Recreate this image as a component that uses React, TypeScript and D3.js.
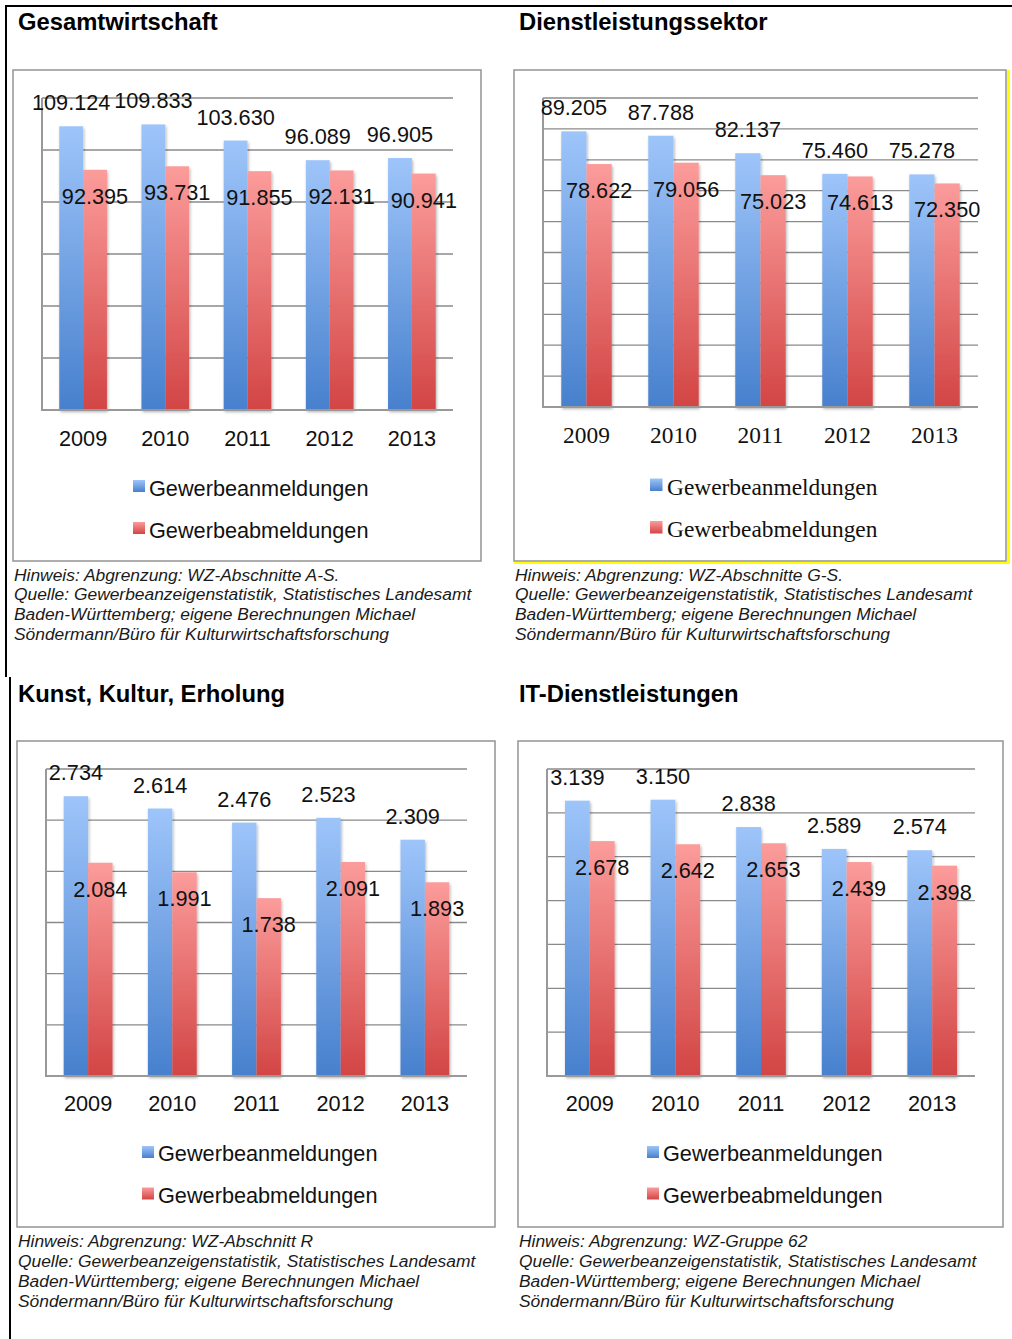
import React from "react";
import * as d3 from "d3";

// Categories and series
const years = ["2009", "2010", "2011", "2012", "2013"];
const seriesKeys = ["an", "ab"];
const legendLabels = ["Gewerbeanmeldungen", "Gewerbeabmeldungen"];

// Gesamtwirtschaft
const gesamtAn = [109124, 109833, 103630, 96089, 96905];
const gesamtAb = [92395, 93731, 91855, 92131, 90941];
// Dienstleistungssektor
const dienstAn = [89205, 87788, 82137, 75460, 75278];
const dienstAb = [78622, 79056, 75023, 74613, 72350];
// Kunst, Kultur, Erholung
const kunstAn = [2734, 2614, 2476, 2523, 2309];
const kunstAb = [2084, 1991, 1738, 2091, 1893];
// IT-Dienstleistungen
const itAn = [3139, 3150, 2838, 2589, 2574];
const itAb = [2678, 2642, 2653, 2439, 2398];

// Axis extents (max, step)
const gesamtAxis = [120000, 20000];
const dienstAxis = [100000, 10000];
const kunstAxis = [3000, 500];
const itAxis = [3500, 500];

const titles = [
  "Gesamtwirtschaft",
  "Dienstleistungssektor",
  "Kunst, Kultur, Erholung",
  "IT-Dienstleistungen",
];

const sourceLines = [
  "Quelle: Gewerbeanzeigenstatistik, Statistisches Landesamt",
  "Baden-Württemberg; eigene Berechnungen Michael",
  "Söndermann/Büro für Kulturwirtschaftsforschung",
];
const hinweise = [
  "Hinweis: Abgrenzung: WZ-Abschnitte A-S.",
  "Hinweis: Abgrenzung: WZ-Abschnitte G-S.",
  "Hinweis: Abgrenzung: WZ-Abschnitt R",
  "Hinweis: Abgrenzung: WZ-Gruppe 62",
];

const fmt = d3
  .formatLocale({ decimal: ",", thousands: ".", grouping: [3], currency: ["", "€"] })
  .format(",d");

const SANS = "'Liberation Sans', Arial, sans-serif";
const SERIF = "'Liberation Serif', 'Times New Roman', serif";

type Layout = {
  titleX: number;
  titleY: number;
  box: [number, number, number, number];
  plot: [number, number, number, number];
  yearY: number;
  legSqX: number;
  legSqY: [number, number];
  legSq: number;
  legTextX: number;
  legTextY: [number, number];
  noteX: number;
  noteY: number;
  noteStep: number;
  serif?: boolean;
  yellow?: boolean;
};

const layouts: Layout[] = [
  {
    titleX: 18, titleY: 30,
    box: [13, 70, 468, 491],
    plot: [42, 453, 98, 410],
    yearY: 446,
    legSqX: 133, legSqY: [480, 522], legSq: 12,
    legTextX: 149, legTextY: [496, 538],
    noteX: 14, noteY: 580.5, noteStep: 19.8,
  },
  {
    titleX: 519, titleY: 30,
    box: [514, 70, 492, 491],
    plot: [543, 978, 98, 407],
    yearY: 443,
    legSqX: 650, legSqY: [478.5, 521], legSq: 12.5,
    legTextX: 667, legTextY: [494.5, 536.5],
    noteX: 515, noteY: 580.5, noteStep: 19.8,
    serif: true, yellow: true,
  },
  {
    titleX: 18, titleY: 702,
    box: [17, 741, 478, 486],
    plot: [46, 467, 769, 1076],
    yearY: 1111,
    legSqX: 142, legSqY: [1146, 1187.5], legSq: 12,
    legTextX: 158, legTextY: [1161, 1203],
    noteX: 18, noteY: 1246.5, noteStep: 20,
  },
  {
    titleX: 519, titleY: 702,
    box: [518, 741, 485, 486],
    plot: [547, 975, 769, 1076],
    yearY: 1111,
    legSqX: 647, legSqY: [1146, 1187.5], legSq: 12,
    legTextX: 663, legTextY: [1161, 1203],
    noteX: 519, noteY: 1246.5, noteStep: 20,
  },
];

function Panel({ L, an, ab, axis, title, hinweis }: { L: Layout; an: number[]; ab: number[]; axis: number[]; title: string; hinweis: string }) {
  const [px0, px1, yTop, yBase] = L.plot;
  const [yMax, step] = axis;
  const x = d3.scaleBand<string>().domain(years).range([px0, px1]).padding(0);
  const bw = x.bandwidth();
  const xs = d3.scaleBand<string>().domain(seriesKeys).range([bw * 0.21, bw * 0.79]).padding(0);
  const y = d3.scaleLinear().domain([0, yMax]).range([yBase, yTop]);
  const gridVals = d3.range(step, yMax + step / 2, step);
  const catFont = L.serif ? SERIF : SANS;
  const catSize = L.serif ? 23.4 : 21.7;
  const vals = [an, ab];
  const grads = ["url(#gBlue)", "url(#gRed)"];

  return (
    <g>
      <text x={L.titleX} y={L.titleY} fontFamily={SANS} fontWeight="bold" fontSize={23.8} fill="#000">
        {title}
      </text>
      <rect x={L.box[0]} y={L.box[1]} width={L.box[2]} height={L.box[3]} fill="#fff" stroke="#9a9a9a" strokeWidth={1.6} />
      {L.yellow && (
        <g fill="#ffff00">
          <rect x={L.box[0] + L.box[2] + 1} y={L.box[1]} width={3} height={L.box[3] + 3} />
          <rect x={L.box[0]} y={L.box[1] + L.box[3] + 1} width={L.box[2] + 4} height={2} />
        </g>
      )}
      {/* gridlines */}
      {gridVals.map((v) => (
        <line key={v} x1={px0} x2={px1} y1={y(v)} y2={y(v)} stroke="#8a8a8a" strokeWidth={1.3} />
      ))}
      <line x1={px0} x2={px0} y1={y(yMax)} y2={yBase} stroke="#999" strokeWidth={2} />
      {/* bars */}
      <g filter="url(#barShadow)">
        {years.map((yr, i) =>
          seriesKeys.map((k, s) => (
            <rect
              key={yr + k}
              x={(x(yr) as number) + (xs(k) as number)}
              y={y(vals[s][i])}
              width={xs.bandwidth()}
              height={yBase - y(vals[s][i])}
              fill={grads[s]}
            />
          ))
        )}
      </g>
      <line x1={px0 - 1} x2={px1} y1={yBase} y2={yBase} stroke="#999" strokeWidth={2} />
      {/* value labels */}
      {years.map((yr, i) => (
        <g key={"lab" + yr} fontFamily={SANS} fontSize={21.7} fill="#111" textAnchor="middle">
          <text x={(x(yr) as number) + (xs("an") as number) + xs.bandwidth() / 2} y={y(an[i]) - 16}>
            {fmt(an[i])}
          </text>
          <text x={(x(yr) as number) + (xs("ab") as number) + xs.bandwidth() / 2} y={y(ab[i]) + 34}>
            {fmt(ab[i])}
          </text>
        </g>
      ))}
      {/* category labels */}
      {years.map((yr) => (
        <text key={"yr" + yr} x={(x(yr) as number) + bw / 2} y={L.yearY} fontFamily={catFont} fontSize={catSize} fill="#111" textAnchor="middle">
          {yr}
        </text>
      ))}
      {/* legend */}
      {legendLabels.map((lab, s) => (
        <g key={lab}>
          <rect x={L.legSqX} y={L.legSqY[s]} width={L.legSq} height={L.legSq} fill={grads[s]} />
          <text x={L.legTextX} y={L.legTextY[s]} fontFamily={catFont} fontSize={catSize} fill="#111">
            {lab}
          </text>
        </g>
      ))}
      {/* notes */}
      <g fontFamily={SANS} fontStyle="italic" fontSize={17.4} fill="#1a1a1a">
        {[hinweis, ...sourceLines].map((t, j) => (
          <text key={j} x={L.noteX} y={L.noteY + j * L.noteStep}>
            {t}
          </text>
        ))}
      </g>
    </g>
  );
}

export default function App() {
  const data = [
    [gesamtAn, gesamtAb, gesamtAxis],
    [dienstAn, dienstAb, dienstAxis],
    [kunstAn, kunstAb, kunstAxis],
    [itAn, itAb, itAxis],
  ];
  return (
    <svg width={1012} height={1339} style={{ position: "absolute", left: 0, top: 0, background: "#fff" }}>
      <defs>
        <linearGradient id="gBlue" x1="0" y1="0" x2="0" y2="1">
          <stop offset="0" stopColor="#9ec5fa" />
          <stop offset="1" stopColor="#4780cd" />
        </linearGradient>
        <linearGradient id="gRed" x1="0" y1="0" x2="0" y2="1">
          <stop offset="0" stopColor="#fb9c9b" />
          <stop offset="1" stopColor="#d24544" />
        </linearGradient>
        <filter id="barShadow" x="-30%" y="-10%" width="160%" height="120%">
          <feDropShadow dx="1" dy="2" stdDeviation="1.8" floodColor="#000" floodOpacity="0.3" />
        </filter>
      </defs>
      {/* page frame lines */}
      <rect x={5} y={5} width={1007} height={2} fill="#000" />
      <rect x={5} y={5} width={2} height={672} fill="#000" />
      <rect x={9} y={677} width={2} height={662} fill="#000" />
      {data.map((d, i) => (
        <Panel
          key={i}
          L={layouts[i]}
          an={d[0] as number[]}
          ab={d[1] as number[]}
          axis={d[2] as number[]}
          title={titles[i]}
          hinweis={hinweise[i]}
        />
      ))}
    </svg>
  );
}
